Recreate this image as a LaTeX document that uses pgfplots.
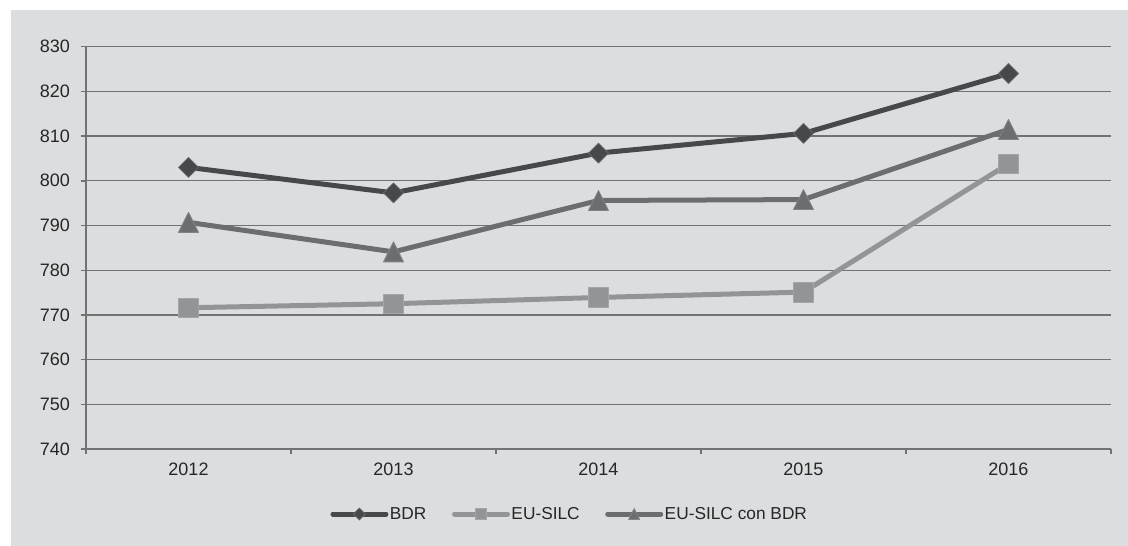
\documentclass[border=0pt]{standalone}
\usepackage{pgfplots}
\pgfplotsset{compat=1.18}
\usepackage{fontspec}
\setmainfont{Liberation Sans}

\definecolor{bgcol}{HTML}{DCDDDF}
\definecolor{gridcol}{HTML}{727272}
\definecolor{txtcol}{HTML}{262626}
\definecolor{bdr}{HTML}{45494A}
\definecolor{bdredge}{HTML}{6A6D6E}
\definecolor{silc}{HTML}{929495}
\definecolor{silcedge}{HTML}{A3A5A6}
\definecolor{silcbdr}{HTML}{6B6D6E}
\definecolor{silcbdredge}{HTML}{818384}

% filled diamond and triangle whose bounding box is centred on the data point
\pgfdeclareplotmark{xldia}{%
  \pgfpathmoveto{\pgfqpoint{0pt}{\pgfplotmarksize}}%
  \pgfpathlineto{\pgfqpoint{\pgfplotmarksize}{0pt}}%
  \pgfpathlineto{\pgfqpoint{0pt}{-\pgfplotmarksize}}%
  \pgfpathlineto{\pgfqpoint{-\pgfplotmarksize}{0pt}}%
  \pgfpathclose\pgfusepathqfillstroke}
\pgfdeclareplotmark{xltri}{%
  \pgfpathmoveto{\pgfqpoint{0pt}{\pgfplotmarksize}}%
  \pgfpathlineto{\pgfqpoint{\pgfplotmarksize}{-\pgfplotmarksize}}%
  \pgfpathlineto{\pgfqpoint{-\pgfplotmarksize}{-\pgfplotmarksize}}%
  \pgfpathclose\pgfusepathqfillstroke}

\newcommand{\lblfont}{\fontsize{17.3bp}{20bp}\selectfont}
\newcommand{\tckfont}{\fontsize{18bp}{20bp}\selectfont}

\begin{document}
\begin{tikzpicture}
\useasboundingbox (0bp,0bp) rectangle (1128bp,546bp);
\fill[white] (0bp,0bp) rectangle (1128bp,546bp);
\fill[bgcol] (11bp,0bp) rectangle (1128bp,536bp);
\begin{axis}[
  at={(86bp,97bp)}, anchor=south west,
  scale only axis, width=1025bp, height=402.3bp,
  xmin=-0.5, xmax=4.5, ymin=740, ymax=830,
  axis x line*=bottom, axis y line*=left,
  axis line style={gridcol, line width=1.4bp},
  tick align=outside, major tick length=5bp,
  tick style={gridcol, line width=1.4bp},
  xtick={-0.5,0.5,...,4.5}, xticklabels={},
  extra x ticks={0,1,2,3,4},
  extra x tick labels={2012,2013,2014,2015,2016},
  extra x tick style={major tick length=0pt, grid=none,
    xticklabel style={inner sep=0pt, anchor=north, yshift=-13.5bp}},
  ytick={740,750,...,830},
  ymajorgrids, grid style={gridcol, line width=1.3bp},
  yticklabel style={inner sep=0pt, anchor=east, xshift=-11bp},
  ticklabel style={font=\tckfont, text=txtcol},
  /pgf/number format/assume math mode=true,
  /pgf/number format/1000 sep={},
  clip=false,
  legend columns=3,
  legend style={at={(0.4717,-0.1616)}, anchor=center, draw=none, fill=none,
    font=\lblfont, text=txtcol, inner sep=0pt,
    nodes={inner sep=1.5bp},
    /tikz/every even column/.append style={column sep=24bp}},
  legend image code/.code={%
    \draw[mark repeat=2, mark phase=2, #1]
      plot coordinates {(0bp,0bp) (26.5bp,0bp) (53bp,0bp)};},
]
% BDR
\addplot[forget plot, bdr, line width=5bp, line join=round,
  mark=xldia, mark size=10bp,
  mark options={fill=bdr, draw=bdredge, line width=0.8bp}]
  coordinates {(0,803.0) (1,797.3) (2,806.2) (3,810.6) (4,824.0)};
% EU-SILC
\addplot[forget plot, silc, line width=5bp, line join=round,
  mark=square*, mark size=9.8bp,
  mark options={fill=silc, draw=silcedge, line width=0.8bp}]
  coordinates {(0,771.6) (1,772.5) (2,773.9) (3,775.1) (4,803.8)};
% EU-SILC con BDR
\addplot[forget plot, silcbdr, line width=5bp, line join=round,
  mark=xltri, mark size=10bp,
  mark options={fill=silcbdr, draw=silcbdredge, line width=0.8bp}]
  coordinates {(0,790.7) (1,784.1) (2,795.6) (3,795.8) (4,811.5)};

\addlegendimage{bdr, line width=5bp, line cap=round, mark=xldia, mark size=6bp,
  mark options={fill=bdr, draw=bdredge, line width=0.7bp}}
\addlegendentry{BDR}
\addlegendimage{silc, line width=5bp, line cap=round, mark=square*, mark size=5.8bp,
  mark options={fill=silc, draw=silcedge, line width=0.7bp}}
\addlegendentry{EU-SILC}
\addlegendimage{silcbdr, line width=5bp, line cap=round, mark=xltri, mark size=5.5bp,
  mark options={fill=silcbdr, draw=silcbdredge, line width=0.7bp}}
\addlegendentry{EU-SILC con BDR}
\end{axis}
\end{tikzpicture}
\end{document}
